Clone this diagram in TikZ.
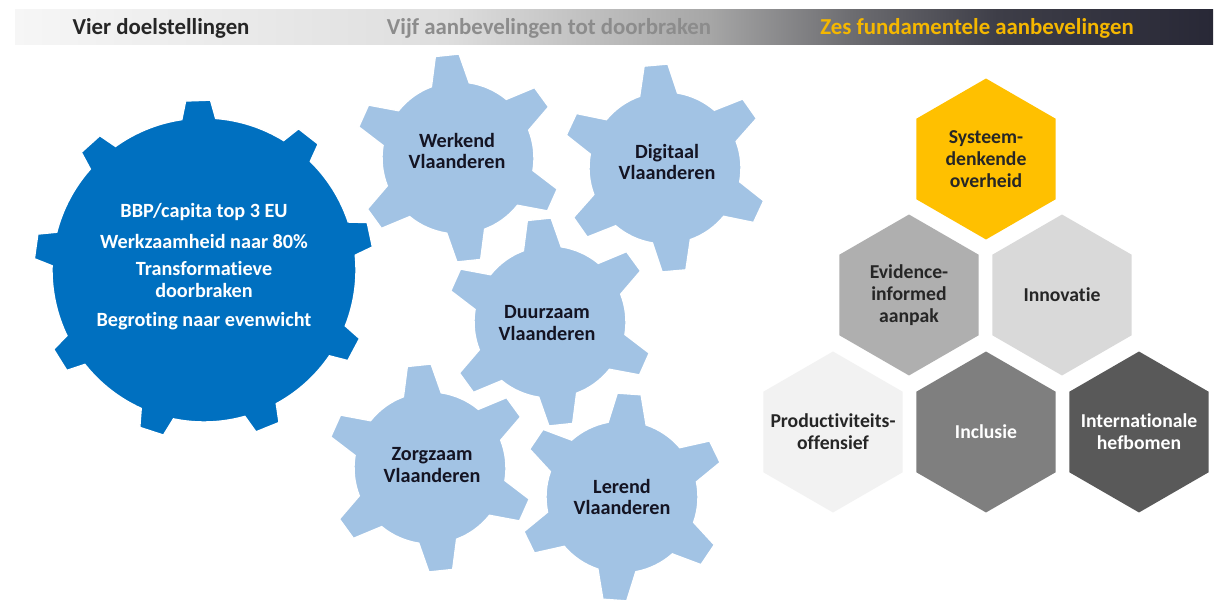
\documentclass[tikz,border=0pt]{standalone}
\usepackage{fontspec}
\setmainfont{Carlito}[Ligatures=NoCommon]
\usetikzlibrary{shapes.geometric}
\definecolor{vlblauw}{RGB}{0,112,192}
\definecolor{vllicht}{RGB}{162,195,228}
\definecolor{vlgeel}{RGB}{255,192,0}
\definecolor{kopgeel}{RGB}{245,183,0}
\definecolor{kopgrijs}{RGB}{140,140,140}
\definecolor{tekstdonker}{RGB}{38,38,38}
\definecolor{tandtekst}{RGB}{20,20,35}
\definecolor{hexgrijsA}{RGB}{242,242,242}
\definecolor{hexgrijsB}{RGB}{217,217,217}
\definecolor{hexgrijsC}{RGB}{175,175,175}
\definecolor{hexgrijsD}{RGB}{127,127,127}
\definecolor{hexgrijsE}{RGB}{89,89,89}
\definecolor{balkA}{RGB}{246,246,246}
\definecolor{balkB}{RGB}{222,222,222}
\definecolor{balkC}{RGB}{166,166,166}
\definecolor{balkD}{RGB}{108,108,112}
\definecolor{balkE}{RGB}{62,62,72}
\definecolor{balkF}{RGB}{40,40,54}
\pgfdeclarehorizontalshading{kopbalk}{100bp}{color(0bp)=(balkA); color(25bp)=(balkA);
  color(43bp)=(balkB); color(54bp)=(balkC); color(60bp)=(balkD); color(66bp)=(balkE);
  color(75bp)=(balkF); color(100bp)=(balkF)}
% gear outline: style, x, y, body radius, tip radius, teeth, offset, half base angle, half tip angle
\newcommand{\tandwiel}[9]{%
  \filldraw[#1, shift={(#2,#3)}] (#7-#8:#4)
    \foreach \k in {1,...,#6} {
      -- ({#7+(\k-1)*360/#6-#9}:#5) -- ({#7+(\k-1)*360/#6+#9}:#5)
      -- ({#7+(\k-1)*360/#6+#8}:#4)
      arc[start angle={#7+(\k-1)*360/#6+#8}, end angle={#7+\k*360/#6-#8}, radius=#4]
    } -- cycle;}
\tikzset{
  gearbig/.style={fill=vlblauw, draw=white, line width=0.8pt},
  gearsmall/.style={fill=vllicht, draw=white, line width=0.8pt},
  geartext/.style={font=\bfseries\fontsize{11.5}{12.5}\selectfont, text=tandtekst, align=center},
  goaltext/.style={font=\bfseries\fontsize{11.5}{12.5}\selectfont, text=white, align=center},
  hexcell/.style={regular polygon, regular polygon sides=6, shape border rotate=30,
                  minimum size=3.22cm, inner sep=-30pt, fill=#1, align=center,
                  font=\bfseries\fontsize{11.2}{12.5}\selectfont},
  kopje/.style={font=\bfseries\fontsize{13}{15}\selectfont, anchor=base},
}

\begin{document}
\begin{tikzpicture}[x=0.02cm, y=-0.02cm]
  \useasboundingbox (0,0) rectangle (1215,604);
  \fill[white] (0,0) rectangle (1215,604);
  % header bar
  \shade[shading=kopbalk] (15,10) rectangle (1213,45);
  \node[kopje, text=tekstdonker] (kopvier) at (161,35) {Vier doelstellingen};
  \node[kopje, text=kopgrijs] (kopvijf) at (549,35) {Vijf aanbevelingen tot doorbraken};
  \node[kopje, text=kopgeel] (kopzes) at (977,35) {Zes fundamentele aanbevelingen};
  % gears
  \tandwiel{gearsmall}{458}{158}{76}{104}{6}{-96}{14.5}{6.6}
  \tandwiel{gearsmall}{665}{168}{76}{104}{6}{-95}{14.5}{6.6}
  \tandwiel{gearsmall}{550}{322}{76}{104}{6}{-96}{14.5}{6.6}
  \tandwiel{gearsmall}{430}{468}{76}{104}{6}{-96}{14.5}{6.6}
  \tandwiel{gearsmall}{622}{497}{76}{104}{6}{-86}{14.5}{6.6}
  \tandwiel{gearbig}{204}{270}{152}{170}{9}{-92}{6.4}{4.2}
  \node[goaltext] (doelen) at (204,267) {BBP/capita top 3 EU\\[5pt]
    Werkzaamheid naar 80\%\\[3pt] Transformatieve\\ doorbraken\\[4pt]
    Begroting naar evenwicht};
  \node[geartext] (werkend) at (457,151) {Werkend\\Vlaanderen};
  \node[geartext] (digitaal) at (667,162) {Digitaal\\Vlaanderen};
  \node[geartext] (duurzaam) at (547,323) {Duurzaam\\Vlaanderen};
  \node[geartext] (zorgzaam) at (432,465) {Zorgzaam\\Vlaanderen};
  \node[geartext] (lerend) at (622,497) {Lerend\\Vlaanderen};
  % hexagons
  \node[hexcell=vlgeel, text=tekstdonker] (systeem) at (986,159) {Systeem-\\denkende\\overheid};
  \node[hexcell=hexgrijsC, text=tekstdonker] (evidence) at (909,295) {Evidence-\\informed\\aanpak};
  \node[hexcell=hexgrijsB, text=tekstdonker] (innovatie) at (1062,295) {Innovatie};
  \node[hexcell=hexgrijsA, text=tekstdonker] (productiviteit) at (833,432) {Productiviteits-\\offensief};
  \node[hexcell=hexgrijsD, text=white] (inclusie) at (986,432) {Inclusie};
  \node[hexcell=hexgrijsE, text=white] (internationaal) at (1139,432) {Internationale\\hefbomen};
\end{tikzpicture}
\end{document}
